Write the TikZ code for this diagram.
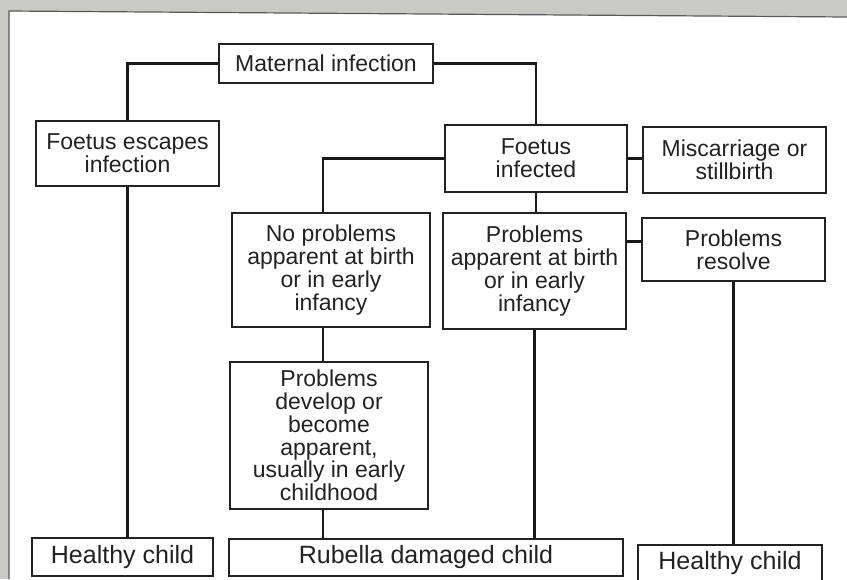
\documentclass[tikz,border=0pt]{standalone}
\usepackage{fontspec}
\setmainfont{Liberation Sans}
\usepackage{xcolor}
\usetikzlibrary{positioning}

\definecolor{inkgray}{HTML}{222222}
\definecolor{paperedge}{HTML}{C9C9C6}

\begin{document}
\begin{tikzpicture}[x=1pt, y=-1pt,
        box/.style={draw=inkgray, line width=1.6pt, inner sep=0pt, align=center,
            text=inkgray, font=\fontsize{23}{22.7}\selectfont},
        bigbox/.style={box, font=\fontsize{25}{25}\selectfont},
        link/.style={draw=black!90, line width=2.2pt}]
        \useasboundingbox (0,0) rectangle (847,579);

        % --- Scanned page edge ---
        \fill[paperedge] (0,0) rectangle (847,579);
        \fill[white] (9,11) -- (847,17) -- (847,579) -- (9,579) -- cycle;
        \draw[gray!70!black, line width=1.2pt] (9,579) -- (9,11) -- (847,17);

        % --- Top rows ---
        \node[box, minimum width=214, minimum height=39] (mat) at (326,63.5) {Maternal infection};
        \node[box, minimum width=183, minimum height=65] (esc) at (127.5,153.5) {Foetus escapes\\infection};
        \node[box, minimum width=182, minimum height=67] (inf) at (536,158.5) {Foetus\\infected};
        \node[box, minimum width=183, minimum height=66] (mis) at (734.5,160) {Miscarriage or\\stillbirth};

        % --- Middle rows ---
        \node[box, minimum width=198, minimum height=114] (nop) at (331,270) {No problems\\apparent at birth\\or in early\\infancy};
        \node[box, minimum width=183, minimum height=116] (app) at (534.5,271) {Problems\\apparent at birth\\or in early\\infancy};
        \node[box, minimum width=183, minimum height=63] (res) at (733.5,249.5) {Problems\\resolve};
        \node[box, minimum width=198, minimum height=147] (dev) at (329,435.5) {Problems\\develop or\\become\\apparent,\\usually in early\\childhood};

        % --- Outcomes ---
        \node[bigbox, minimum width=181, minimum height=38] (hcl) at (122.5,557) {Healthy child};
        \node[bigbox, minimum width=394, minimum height=37] (rub) at (426,557.5) {Rubella damaged child};
        \node[bigbox, minimum width=184, minimum height=37] (hcr) at (730,563.5) {Healthy child};

        % --- Connectors ---
        \coordinate (stem) at ([xshift=-8pt]nop.south);
        \coordinate (resjoin) at ([yshift=8pt]res.west);
        \draw[link] (mat.west) -| (esc.north);
        \draw[link] (mat.east) -| (inf.north);
        \draw[link] (inf.west) -| (stem |- nop.north);
        \draw[link] (inf.east) -- (inf.east -| mis.west);
        \draw[link] (inf.south) -- (inf.south |- app.north);
        \draw[link] (resjoin) -- (resjoin -| app.east);
        \draw[link] (stem) -- (stem |- dev.north);
        \draw[link] (stem |- dev.south) -- (stem |- rub.north);
        \draw[link] (app.south) -- (app.south |- rub.north);
        \draw[link] (res.south) -- (res.south |- hcr.north);
        \draw[link] (esc.south) -- (esc.south |- hcl.north);
    \end{tikzpicture}
\end{document}
